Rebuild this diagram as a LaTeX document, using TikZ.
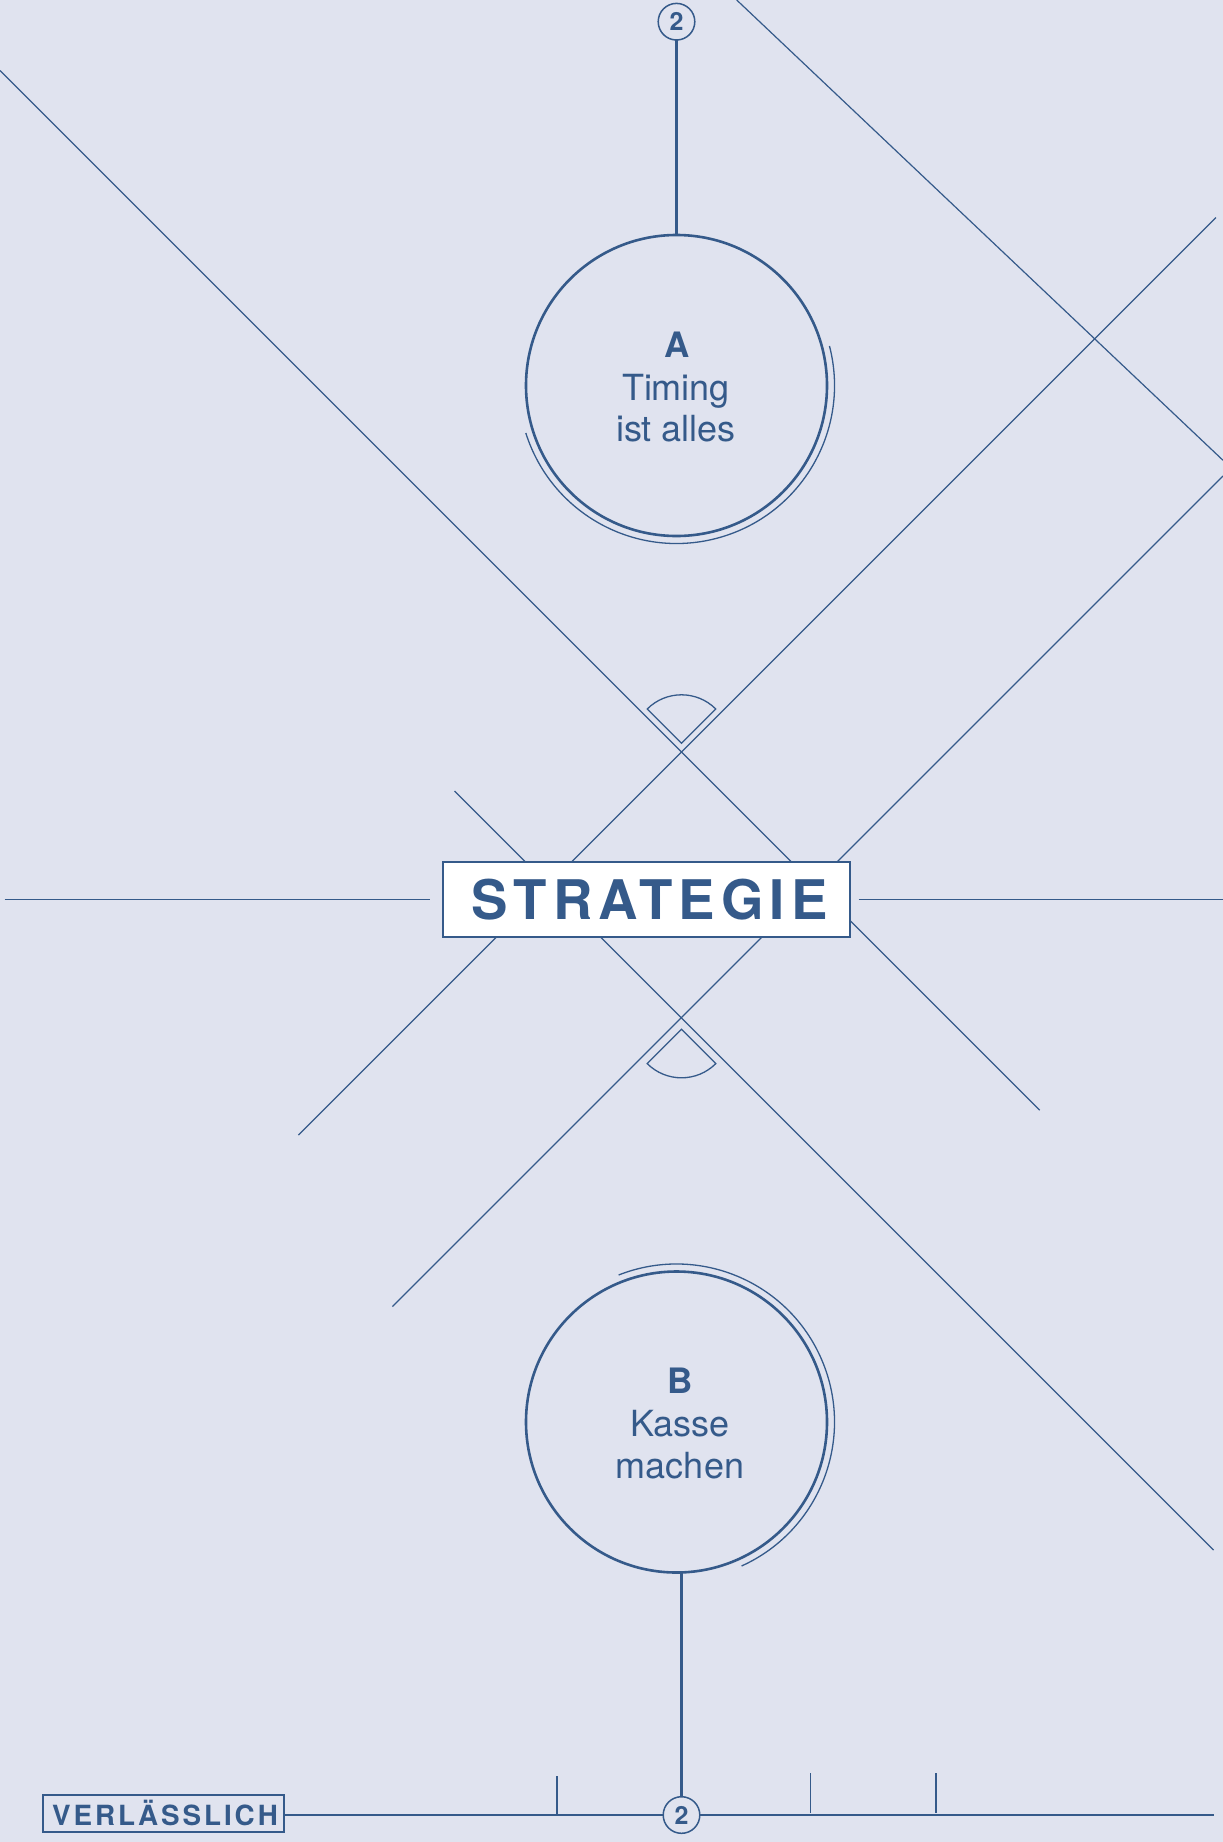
\documentclass[tikz,border=0pt]{standalone}
\usepackage{fontspec}
\usetikzlibrary{calc}
\setmainfont{TeX Gyre Heros}
\newfontfamily\stratfont[LetterSpace=11]{TeX Gyre Heros}
\newfontfamily\verlfont[LetterSpace=10.5]{TeX Gyre Heros}
\definecolor{bg}{HTML}{E0E3EF}
\definecolor{ink}{HTML}{355A8A}
\begin{document}
\begin{tikzpicture}[x=1pt,y=-1pt,
  thinline/.style={draw=ink,line width=1.2pt},
  bigcircle/.style={circle,draw=ink,line width=2.6pt,minimum size=301pt,inner sep=0pt,outer sep=0pt},
  outerarc/.style={draw=ink,line width=1.3pt},
  marker/.style={circle,draw=ink,fill=bg,line width=1.5pt,minimum size=36.6pt,inner sep=0pt,outer sep=0pt,text=ink,font=\fontsize{25}{26}\selectfont\bfseries},
  stem/.style={draw=ink,line width=2.8pt},
  headtext/.style={text=ink,font=\fontsize{35}{40}\selectfont\bfseries,anchor=base,inner sep=0pt},
  bodytext/.style={text=ink,font=\fontsize{36}{42}\selectfont,anchor=base,inner sep=0pt},
  sector/.style={draw=ink,line width=1.3pt,line join=miter}
]
\fill[bg] (0,0) rectangle (1223,1842);
\useasboundingbox (0,0) rectangle (1223,1842);

% diagonal lines
\coordinate (l1a) at (0,70.5);      \coordinate (l1b) at (1039.7,1110.2);
\coordinate (l2a) at (454.6,791.1); \coordinate (l2b) at (1213.6,1550.1);
\coordinate (l3a) at (1215.9,217.6);\coordinate (l3b) at (298.4,1135.1);
\coordinate (l4a) at (1223,476);    \coordinate (l4b) at (392.4,1306.6);
\coordinate (l5a) at (736.7,0);     \coordinate (l5b) at (1223,460.3);
\draw[thinline] (l1a) -- (l1b);
\draw[thinline] (l2a) -- (l2b);
\draw[thinline] (l3a) -- (l3b);
\draw[thinline] (l4a) -- (l4b);
\draw[thinline] (l5a) -- (l5b);

% angle sectors
\coordinate (sa) at (681.5,743.3);
\coordinate (sb) at (681.5,1029.3);
\draw[sector] (sa) -- ++(45:48.5pt) arc[start angle=45,end angle=135,radius=48.5pt] -- cycle;
\draw[sector] (sb) -- ++(-45:48.5pt) arc[start angle=-45,end angle=-135,radius=48.5pt] -- cycle;

% central box
\node[draw=ink,fill=white,line width=2.6pt,minimum width=407pt,minimum height=75pt,inner sep=0pt,outer sep=0pt] (S) at (646.3,899.5) {};
\node[text=ink,font=\fontsize{54.6}{60}\selectfont\stratfont\bfseries,anchor=base,inner sep=0pt] (St) at (649.5,919.3) {STRATEGIE};
\coordinate (hl) at (4.7,899.5);
\coordinate (hr) at (1223,899.5);
\draw[draw=ink,line width=1.4pt] (hl) -- ([xshift=-12.7pt]S.west);
\draw[draw=ink,line width=1.4pt] ([xshift=8.8pt]S.east) -- (hr);

% circle A
\node[bigcircle] (A) at (676.5,385.5) {};
\draw[outerarc] ($(A.center)+(14.5:158pt)$) arc[start angle=14.5,end angle=-162.5,radius=158pt];
\node[headtext] (At) at (676.7,357.3) {A};
\node[bodytext] (At2) at (676,400) {Timing};
\node[bodytext] (At3) at (676,441.7) {ist alles};
\node[marker] (m1) at (676.5,21.7) {2};
\draw[stem] (m1) -- (A);

% circle B
\node[bigcircle] (B) at (676.5,1422) {};
\draw[outerarc] ($(B.center)+(111.5:158pt)$) arc[start angle=111.5,end angle=-65.7,radius=158pt];
\node[headtext] (Bt) at (680,1393.3) {B};
\node[bodytext] (Bt2) at (680,1436.7) {Kasse};
\node[bodytext] (Bt3) at (680,1478.3) {machen};

% bottom bar
\node[draw=ink,line width=1.8pt,minimum width=241.3pt,minimum height=36.7pt,inner sep=0pt,outer sep=0pt] (V) at (163.3,1813.7) {};
\node[text=ink,font=\fontsize{27.8}{30}\selectfont\verlfont\bfseries,anchor=base,inner sep=0pt] (Vt) at (165,1825) {VERLÄSSLICH};
\coordinate (be) at (1213.6,1815);
\draw[draw=ink,line width=1.5pt] (V.east |- be) -- (be);
\coordinate (t1a) at (557,1776);   \coordinate (t1b) at (557,1815);
\coordinate (t2a) at (810.5,1773); \coordinate (t2b) at (810.5,1813);
\coordinate (t3a) at (936,1773);   \coordinate (t3b) at (936,1813);
\draw[thinline,line width=1.4pt] (t1a) -- (t1b);
\draw[thinline,line width=1.4pt] (t2a) -- (t2b);
\draw[thinline,line width=1.4pt] (t3a) -- (t3b);
\node[marker] (m2) at (681.5,1815) {2};
\draw[stem] (m2.north) -- (m2.north |- B.south);
\end{tikzpicture}
\end{document}
